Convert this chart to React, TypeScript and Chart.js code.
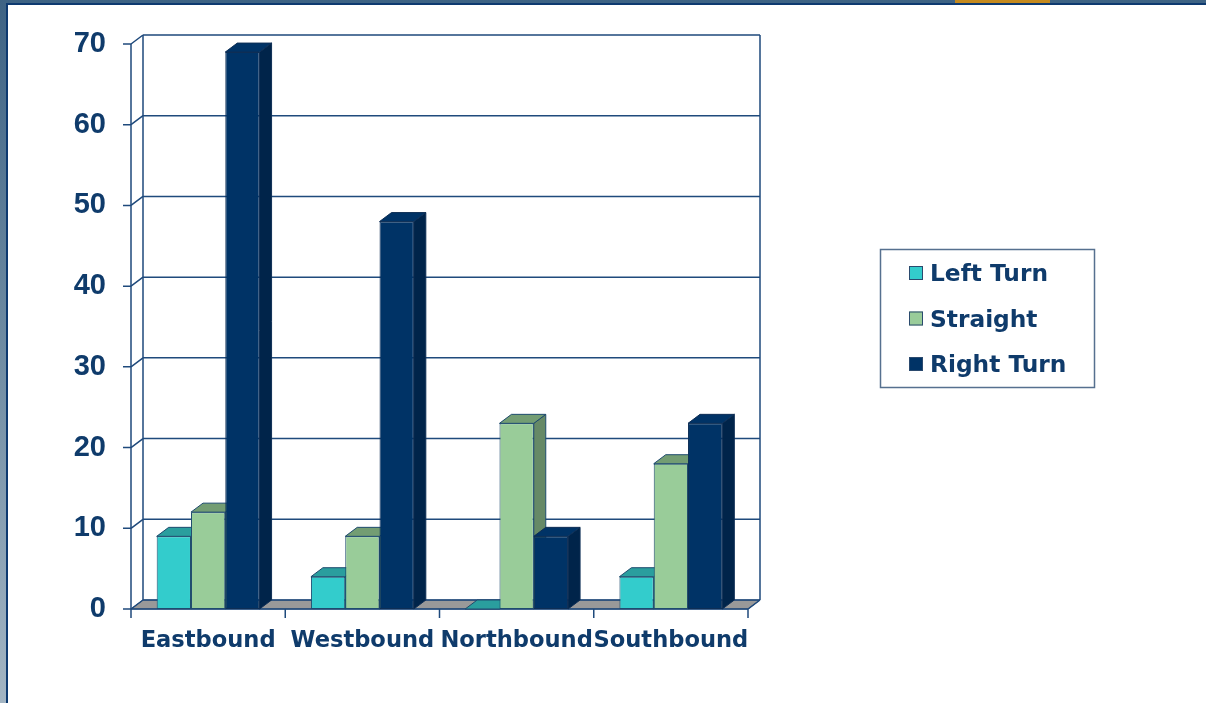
import { useEffect, useRef } from "react";
import { Chart, registerables } from "chart.js";
Chart.register(...registerables);

const categories = ["Eastbound", "Westbound", "Northbound", "Southbound"];
const seriesNames = ["Left Turn", "Straight", "Right Turn"];
const leftTurn = [9, 4, 0, 4];
const straight = [12, 9, 23, 18];
const rightTurn = [69, 48, 9, 23];
const yMin = 0;
const yMax = 70;
const yStep = 10;

const TEXT = "#0F3B6B";
const LINE = "#1F4A7C";
const DX = 12;
const DY = -9;

const palette = [
  { front: "#33CCCC", top: "#2A9E9E", side: "#238F8F", border: "#1E4B6E" },
  { front: "#99CC99", top: "#739D73", side: "#668966", border: "#1E4B6E" },
  { front: "#003366", top: "#003366", side: "#00244A", border: "#0E2E55" },
];

const framePlugin = {
  id: "frame",
  beforeDraw(chart: any) {
    const { ctx, width, height } = chart;
    ctx.save();
    const g = ctx.createLinearGradient(0, 0, 0, height);
    g.addColorStop(0, "#3E6384");
    g.addColorStop(0.5, "#6F8CA3");
    g.addColorStop(1, "#A3B5C3");
    ctx.fillStyle = g;
    ctx.fillRect(0, 0, width, height);
    ctx.fillStyle = "#C58A1E";
    ctx.fillRect(955, 0, 95, 3);
    ctx.fillStyle = "#0E3A70";
    ctx.fillRect(6, 3, width - 6, height - 3);
    ctx.fillStyle = "#FFFFFF";
    ctx.fillRect(8, 5, width - 8, height - 5);
    ctx.restore();
  },
};

const wallsPlugin = {
  id: "walls3d",
  beforeDatasetsDraw(chart: any) {
    const { ctx, chartArea, scales } = chart;
    const { left, right, top, bottom } = chartArea;
    const y = scales.y;
    const x = scales.x;
    ctx.save();

    // floor
    ctx.beginPath();
    ctx.moveTo(left, bottom);
    ctx.lineTo(right, bottom);
    ctx.lineTo(right + DX, bottom + DY);
    ctx.lineTo(left + DX, bottom + DY);
    ctx.closePath();
    ctx.fillStyle = "#999999";
    ctx.fill();
    ctx.lineWidth = 1;
    ctx.strokeStyle = "#3A5472";
    ctx.stroke();

    ctx.lineWidth = 1.5;
    ctx.strokeStyle = LINE;
    for (let v = yMin; v <= yMax; v += yStep) {
      const py = y.getPixelForValue(v);
      ctx.beginPath();
      ctx.moveTo(left + DX, py + DY);
      ctx.lineTo(right + DX, py + DY);
      ctx.moveTo(left, py);
      ctx.lineTo(left + DX, py + DY);
      ctx.moveTo(left - 8, py);
      ctx.lineTo(left, py);
      ctx.stroke();
    }
    ctx.beginPath();
    ctx.moveTo(left + DX, top + DY);
    ctx.lineTo(left + DX, bottom + DY);
    ctx.moveTo(right + DX, top + DY);
    ctx.lineTo(right + DX, bottom + DY);
    ctx.moveTo(left, top);
    ctx.lineTo(left, bottom);
    ctx.stroke();

    ctx.beginPath();
    ctx.moveTo(left, bottom);
    ctx.lineTo(right, bottom);
    ctx.lineTo(right + DX, bottom + DY);
    const n = categories.length;
    for (let i = 0; i <= n; i++) {
      let px;
      if (i === 0) px = left;
      else if (i === n) px = right;
      else px = (x.getPixelForValue(i - 1) + x.getPixelForValue(i)) / 2;
      ctx.moveTo(px, bottom);
      ctx.lineTo(px, bottom + 9);
    }
    ctx.stroke();

    const items: any[] = [];
    chart.data.datasets.forEach((ds: any, di: number) => {
      const meta = chart.getDatasetMeta(di);
      meta.data.forEach((el: any) => {
        const p = el.getProps(["x", "y", "base", "width"], true);
        items.push({ ...p, di });
      });
    });
    items.sort((a, b) => a.x - b.x);
    ctx.lineWidth = 1;
    for (const it of items) {
      const c = palette[it.di];
      const l = it.x - it.width / 2;
      const r = it.x + it.width / 2;
      const ty = Math.min(it.y, it.base);
      const by = Math.max(it.y, it.base);
      ctx.strokeStyle = c.border;
      if (by - ty > 0.5) {
        ctx.beginPath();
        ctx.moveTo(r, ty);
        ctx.lineTo(r + DX, ty + DY);
        ctx.lineTo(r + DX, by + DY);
        ctx.lineTo(r, by);
        ctx.closePath();
        ctx.fillStyle = c.side;
        ctx.fill();
        ctx.stroke();
      }
      ctx.beginPath();
      ctx.moveTo(l, ty);
      ctx.lineTo(r, ty);
      ctx.lineTo(r + DX, ty + DY);
      ctx.lineTo(l + DX, ty + DY);
      ctx.closePath();
      ctx.fillStyle = c.top;
      ctx.fill();
      ctx.stroke();
    }
    ctx.restore();
  },
};

const legendPlugin = {
  id: "legendBox",
  afterDraw(chart: any) {
    const { ctx } = chart;
    ctx.save();
    ctx.fillStyle = "#FFFFFF";
    ctx.fillRect(880, 249, 215, 139);
    ctx.lineWidth = 1.5;
    ctx.strokeStyle = "#56708F";
    ctx.strokeRect(880.5, 249.5, 214, 138);
    chart.data.datasets.forEach((ds: any, i: number) => {
      const cy = 273 + i * 45.5;
      ctx.fillStyle = ds.backgroundColor;
      ctx.fillRect(909, cy - 7, 14, 14);
      ctx.lineWidth = 1;
      ctx.strokeStyle = "#2B4A6E";
      ctx.strokeRect(909.5, cy - 6.5, 13, 13);
      ctx.fillStyle = TEXT;
      ctx.font = "bold 23.3px 'DejaVu Sans'";
      ctx.textBaseline = "alphabetic";
      ctx.textAlign = "left";
      ctx.fillText(ds.label, 930, cy + 8);
    });
    ctx.restore();
  },
};

export default function App() {
  const ref = useRef<HTMLCanvasElement | null>(null);
  useEffect(() => {
    if (!ref.current) return;
    const seriesValues = [leftTurn, straight, rightTurn];
    const chart = new Chart(ref.current, {
      type: "bar",
      data: {
        labels: categories,
        datasets: seriesNames.map((name, i) => ({
          label: name,
          data: seriesValues[i],
          backgroundColor: palette[i].front,
          borderColor: palette[i].border,
          borderWidth: 1,
          borderSkipped: false,
          categoryPercentage: 0.667,
          barPercentage: 1,
        })),
      },
      options: {
        responsive: false,
        animation: false,
        events: [],
        layout: { padding: { top: 44, right: 458, left: 0, bottom: 0 } },
        plugins: {
          legend: { display: false },
          tooltip: { enabled: false },
          title: { display: false },
        },
        scales: {
          x: {
            grid: { display: false, drawTicks: false },
            border: { display: false },
            ticks: {
              color: TEXT,
              font: { family: "'DejaVu Sans'", size: 22.6, weight: "bold" },
              padding: 19,
              maxRotation: 0,
              autoSkip: false,
            },
            afterFit(scale: any) {
              scale.height = 94;
            },
          },
          y: {
            min: yMin,
            max: yMax,
            grid: { display: false, drawTicks: false },
            border: { display: false },
            ticks: {
              stepSize: yStep,
              color: TEXT,
              font: { family: "'Liberation Sans'", size: 29, weight: "bold" },
              padding: 25,
            },
            afterFit(scale: any) {
              scale.width = 131;
            },
          },
        },
      },
      plugins: [framePlugin, wallsPlugin, legendPlugin],
    });
    return () => chart.destroy();
  }, []);
  return (
    <div style={{ position: "fixed", left: 0, top: 0, width: 1206, height: 703 }}>
      <canvas ref={ref} width={1206} height={703} style={{ display: "block" }} />
    </div>
  );
}
